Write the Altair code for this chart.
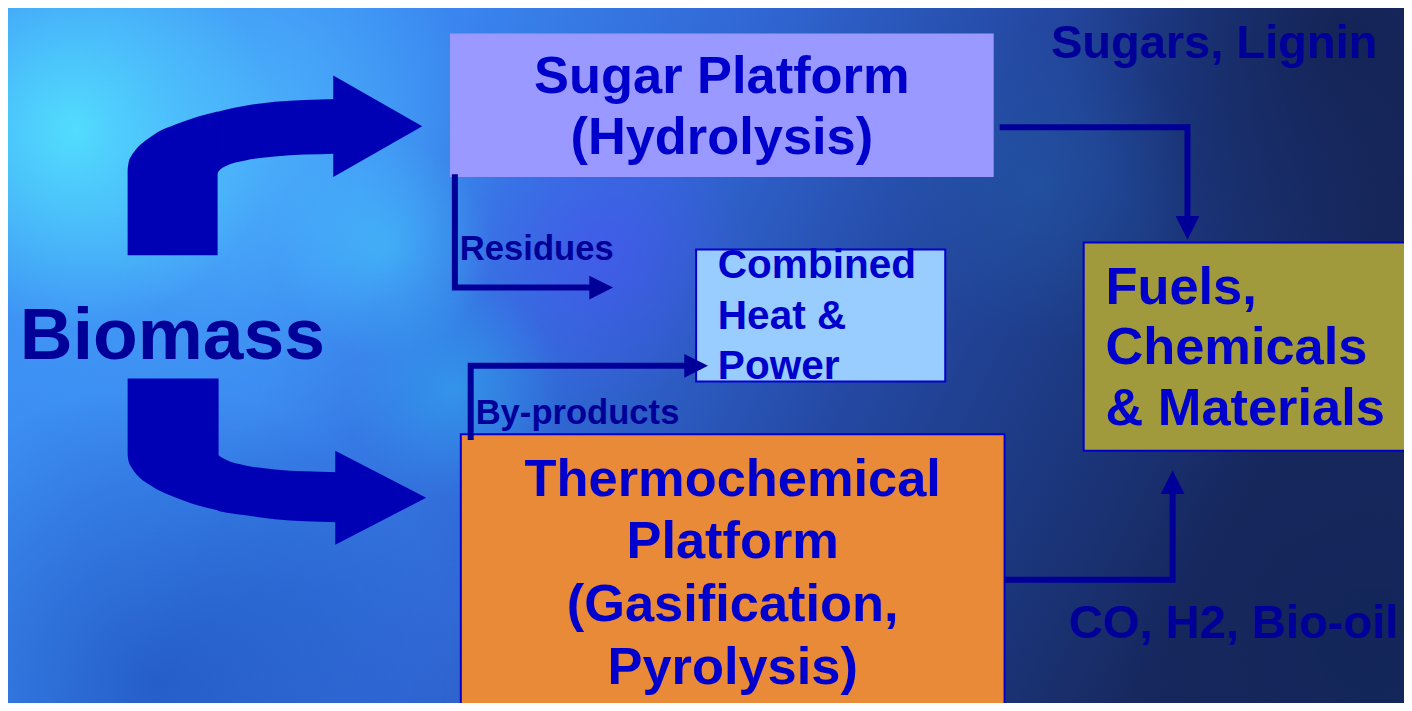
import altair as alt
import pandas as pd

# ---------------- frame (reference pixel units) ----------------
FRAME_W, FRAME_H = 1412, 711
PLOT_W, PLOT_H = 1396, 695
K = PLOT_W / FRAME_W
FONT = "Liberation Sans, Arial, Helvetica, sans-serif"

# ---------------- boxes ----------------
box_name = ["Sugar Platform", "Combined Heat & Power", "Fuels, Chemicals & Materials", "Thermochemical Platform"]
box_x1 = [447, 696, 1088, 458]
box_x2 = [997, 948, 1430, 1008]
box_y1 = [26, 247, 240, 436]
box_y2 = [173, 382, 453, 730]
box_fill = ["#9999FF", "#99CCFF", "#A09A3C", "#E88A38"]
box_stroke = ["#9999FF", "#0000CC", "#0000CC", "#0000CC"]
box_sw = [0, 2, 2, 2]

# ---------------- labels ----------------
label_text = ["Biomass", "Sugar Platform", "(Hydrolysis)", "Thermochemical", "Platform",
              "(Gasification,", "Pyrolysis)", "Combined", "Heat &", "Power", "Fuels,",
              "Chemicals", "& Materials", "Sugars, Lignin", "CO, H2, Bio-oil", "Residues",
              "By-products"]
label_x = [12, 722, 722, 733, 733, 733, 733, 718, 718, 718, 1110, 1110, 1110, 1055, 1073, 457, 473]
label_y = [337, 71, 133, 483, 546, 611, 675, 264, 316, 367, 286, 348, 410, 37, 630, 248, 415]
label_size = [74, 53, 53, 53, 53, 53, 53, 41, 41, 41, 53, 53, 53, 47.5, 47.6, 35, 35]
label_color = ["#000099"] + ["#0000CC"] * 12 + ["#000099"] * 4
label_align = ["left", "center", "center", "center", "center", "center", "center",
               "left", "left", "left", "left", "left", "left", "left", "left", "left", "left"]

# ---------------- connectors ----------------
conn_id = ["res"] * 3 + ["byp"] * 3 + ["sug"] * 3 + ["co"] * 3
conn_x = [452, 452, 590, 468, 468, 686, 1003, 1193, 1193, 1008, 1178, 1178]
conn_y = [170, 286, 286, 442, 366, 366, 122, 122, 215, 585, 585, 495]

head_id = ["res", "byp", "sug", "co"]
head_x = [600, 696, 1193, 1178]
head_y = [286, 366, 225, 485]
head_angle = [0, 0, 90, 270]

# ---------------- big curved arrows (outline pieces) ----------------
# upper arrow: stem + outer bend, bend band, head
up_stem_x = [121, 122, 125, 128, 135, 142, 150, 170, 200, 212]
up_stem_top = [165, 158, 151, 146.6, 139, 133.6, 128, 119, 109, 106]
up_stem_bot = [253] * 10
up_band_x = [211, 214, 220, 240, 270, 300, 331]
up_band_top = [106.5, 105.5, 104, 100, 96, 94, 93]
up_band_bot = [170, 166, 162, 156, 152, 150, 149]
up_head_x = [329, 419]
up_head_top = [69, 121]
up_head_bot = [173, 121]
# lower arrow
dn_stem_x = [121, 122, 125, 128, 135, 142, 150, 170, 200, 213]
dn_stem_top = [379] * 10
dn_stem_bot = [457, 463.8, 470, 474.7, 482, 487, 492, 501, 511, 514]
dn_band_x = [212, 215, 220, 240, 270, 300, 333]
dn_band_top = [457, 459, 462, 468, 472, 474, 475]
dn_band_bot = [514, 515, 516, 519, 523, 525, 526]
dn_head_x = [331, 423]
dn_head_top = [453, 501]
dn_head_bot = [549, 501]

# ---------------- background glows (circular) ----------------
glow_cx = [200, 70, 250, 380, 600, 450, 320, 150, 1350, 1040, 1380]
glow_cy = [175, 125, 110, 245, 250, 390, 600, 690, 20, 180, 650]
glow_r = [300, 200, 220, 110, 150, 110, 190, 300, 280, 160, 280]
glow_rgba = ["rgba(75,175,250,0.6)", "rgba(85,235,255,0.85)", "rgba(80,190,255,0.55)",
             "rgba(70,205,255,0.5)", "rgba(78,80,245,0.55)", "rgba(50,180,245,0.5)",
             "rgba(45,110,215,0.4)", "rgba(25,70,175,0.6)", "rgba(18,30,75,0.7)",
             "rgba(35,95,170,0.45)", "rgba(15,35,85,0.55)"]

# ============================================================
xs = alt.Scale(domain=[0, FRAME_W], nice=False, zero=False)
ys = alt.Scale(domain=[0, FRAME_H], nice=False, zero=False, reverse=True)


def X(f):
    return alt.X(f, type="quantitative", scale=xs, axis=None)


def Y(f):
    return alt.Y(f, type="quantitative", scale=ys, axis=None)


layers = []

# base background
base_df = pd.DataFrame({"x": [0], "x2": [FRAME_W], "y": [0], "y2": [FRAME_H]})
base_grad = alt.LinearGradient(
    gradient="linear", x1=0, y1=0, x2=1, y2=0.25,
    stops=[alt.GradientStop(color="#3e96f6", offset=0),
           alt.GradientStop(color="#3a86f0", offset=0.3),
           alt.GradientStop(color="#3168d6", offset=0.5),
           alt.GradientStop(color="#2448a2", offset=0.7),
           alt.GradientStop(color="#1c3880", offset=0.85),
           alt.GradientStop(color="#17285e", offset=1)])
layers.append(alt.Chart(base_df).mark_rect(fill=base_grad, clip=True).encode(
    x=X("x"), x2=alt.X2("x2"), y=Y("y"), y2=alt.Y2("y2")))

for cx, cy, r, col in zip(glow_cx, glow_cy, glow_r, glow_rgba):
    transparent = col.rsplit(",", 1)[0] + ",0)"
    g = alt.RadialGradient(
        gradient="radial", x1=0.5, y1=0.5, r1=0, x2=0.5, y2=0.5, r2=0.5,
        stops=[alt.GradientStop(color=col, offset=0),
               alt.GradientStop(color=transparent, offset=1)])
    gdf = pd.DataFrame({"x": [cx - r], "x2": [cx + r], "y": [cy - r], "y2": [cy + r]})
    layers.append(alt.Chart(gdf).mark_rect(fill=g, clip=True).encode(
        x=X("x"), x2=alt.X2("x2"), y=Y("y"), y2=alt.Y2("y2")))

# big curved arrows: one area layer per piece
pieces = [(up_stem_x, up_stem_top, up_stem_bot, "monotone"),
          (up_band_x, up_band_top, up_band_bot, "monotone"),
          (up_head_x, up_head_top, up_head_bot, "linear"),
          (dn_stem_x, dn_stem_top, dn_stem_bot, "monotone"),
          (dn_band_x, dn_band_top, dn_band_bot, "monotone"),
          (dn_head_x, dn_head_top, dn_head_bot, "linear")]
for xx, tt, bb, interp in pieces:
    adf = pd.DataFrame({"ax": xx, "ya": tt, "yb": bb})
    layers.append(alt.Chart(adf).mark_area(
        fill="#0000B4", opacity=1, fillOpacity=1, interpolate=interp, clip=True).encode(
        x=X("ax"), y=alt.Y("ya:Q", scale=ys, axis=None, stack=None), y2=alt.Y2("yb")))

# boxes
box_df = pd.DataFrame({"name": box_name, "x": box_x1, "x2": box_x2, "y": box_y1, "y2": box_y2,
                       "fill": box_fill, "stroke": box_stroke, "sw": box_sw})
layers.append(alt.Chart(box_df).mark_rect(clip=True).encode(
    x=X("x"), x2=alt.X2("x2"), y=Y("y"), y2=alt.Y2("y2"),
    fill=alt.Fill("fill:N", scale=None), stroke=alt.Stroke("stroke:N", scale=None),
    strokeWidth=alt.StrokeWidth("sw:Q", scale=None)))

# connectors
conn_df = pd.DataFrame({"id": conn_id, "x": conn_x, "y": conn_y, "i": list(range(len(conn_x)))})
layers.append(alt.Chart(conn_df).mark_line(
    color="#000099", strokeWidth=6, strokeCap="butt", strokeJoin="miter", clip=True).encode(
    x=X("x"), y=Y("y"), detail="id:N", order=alt.Order("i:Q")))

head_df = pd.DataFrame({"id": head_id, "x": head_x, "y": head_y, "ang": head_angle})
layers.append(alt.Chart(head_df).mark_point(
    shape="M -1 -1 L 1 0 L -1 1 Z", filled=True, opacity=1, size=24 * 24 * K * K,
    color="#000099", strokeWidth=0, clip=True).encode(
    x=X("x"), y=Y("y"), angle=alt.Angle("ang:Q", scale=None)))

# labels
lab_df = pd.DataFrame({"t": label_text, "x": label_x, "y": label_y,
                       "fs": [s * K for s in label_size], "c": label_color, "al": label_align})
for al in ["left", "center"]:
    layers.append(alt.Chart(lab_df).transform_filter(alt.datum.al == al).mark_text(
        align=al, baseline="middle", font=FONT, fontWeight="bold", clip=True).encode(
        x=X("x"), y=Y("y"), text="t:N",
        size=alt.Size("fs:Q", scale=None), color=alt.Color("c:N", scale=None)))

chart = alt.layer(*layers).properties(
    width=PLOT_W, height=PLOT_H, padding=0,
    autosize=alt.AutoSizeParams(type="none"),
).configure_view(stroke=None)

chart.save("out.html", embed_options={"renderer": "svg", "actions": False})
